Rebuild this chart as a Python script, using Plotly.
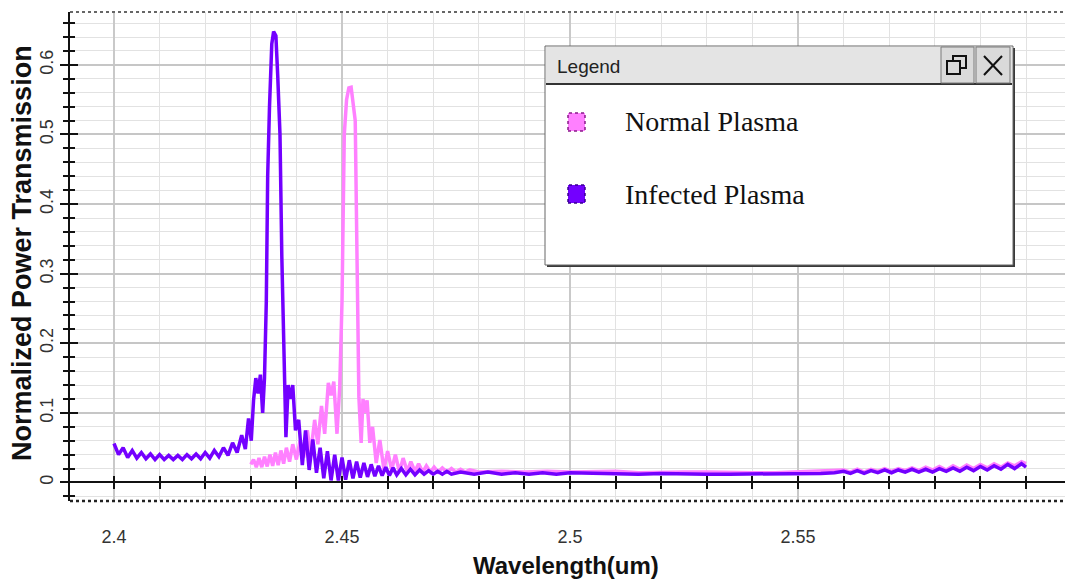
import plotly.graph_objects as go

# ---------------- data ----------------
infected_wl = [
    2.4000, 2.4010, 2.4020, 2.4030, 2.4040, 2.4050, 2.4060, 2.4070, 2.4080, 2.4090,
    2.4100, 2.4110, 2.4120, 2.4130, 2.4140, 2.4150, 2.4160, 2.4170, 2.4180, 2.4190,
    2.4200, 2.4210, 2.4220, 2.4230, 2.4240, 2.4250, 2.4260, 2.4270, 2.4280, 2.4288,
    2.4295, 2.4301, 2.4306, 2.4311, 2.4316, 2.4321, 2.4326, 2.4330, 2.4334, 2.4337,
    2.4341, 2.4346, 2.4350, 2.4355, 2.4359, 2.4364, 2.4368, 2.4372, 2.4377, 2.4382,
    2.4387, 2.4392, 2.4398, 2.4405, 2.4413, 2.4420, 2.4428, 2.4436, 2.4444, 2.4452,
    2.4460, 2.4468, 2.4476, 2.4484, 2.4492, 2.4500, 2.4508, 2.4516, 2.4524, 2.4532,
    2.4540, 2.4548, 2.4556, 2.4564, 2.4572, 2.4580, 2.4588, 2.4596, 2.4604, 2.4612,
    2.4620, 2.4630, 2.4640, 2.4650, 2.4660, 2.4670, 2.4680, 2.4690, 2.4700, 2.4710,
    2.4720, 2.4730, 2.4740, 2.4760, 2.4790, 2.4820, 2.4850, 2.4880, 2.4910, 2.4940,
    2.4970, 2.5000, 2.5050, 2.5100, 2.5150, 2.5200, 2.5250, 2.5300, 2.5350, 2.5400,
    2.5450, 2.5500, 2.5550, 2.5580, 2.5600, 2.5615, 2.5630, 2.5645, 2.5660, 2.5675,
    2.5690, 2.5705, 2.5720, 2.5735, 2.5750, 2.5765, 2.5780, 2.5795, 2.5810, 2.5825,
    2.5840, 2.5855, 2.5870, 2.5885, 2.5900, 2.5915, 2.5930, 2.5945, 2.5960, 2.5975,
    2.5990, 2.6000,
]
infected_t = [
    0.056, 0.040, 0.050, 0.036, 0.046, 0.035, 0.043, 0.034, 0.041, 0.033,
    0.040, 0.033, 0.039, 0.033, 0.039, 0.033, 0.040, 0.034, 0.041, 0.034,
    0.043, 0.035, 0.046, 0.037, 0.050, 0.039, 0.057, 0.043, 0.068, 0.048,
    0.092, 0.060, 0.118, 0.150, 0.128, 0.155, 0.100, 0.150, 0.260, 0.440,
    0.540, 0.630, 0.648, 0.642, 0.585, 0.500, 0.325, 0.190, 0.065, 0.140,
    0.120, 0.140, 0.075, 0.090, 0.025, 0.075, 0.018, 0.062, 0.014, 0.050,
    0.006, 0.045, 0.003, 0.040, 0.003, 0.036, 0.004, 0.032, 0.006, 0.030,
    0.007, 0.028, 0.008, 0.026, 0.009, 0.024, 0.010, 0.022, 0.010, 0.021,
    0.011, 0.020, 0.011, 0.019, 0.011, 0.018, 0.012, 0.017, 0.012, 0.016,
    0.012, 0.016, 0.012, 0.015, 0.012, 0.015, 0.012, 0.014, 0.012, 0.014,
    0.012, 0.014, 0.013, 0.013, 0.012, 0.013, 0.012, 0.012, 0.012, 0.012,
    0.013, 0.013, 0.013, 0.014, 0.016, 0.013, 0.017, 0.013, 0.017, 0.014,
    0.018, 0.014, 0.018, 0.015, 0.019, 0.015, 0.019, 0.015, 0.020, 0.016,
    0.021, 0.016, 0.022, 0.017, 0.023, 0.018, 0.024, 0.019, 0.026, 0.020,
    0.027, 0.022,
]

normal_wl = [
    2.4300, 2.4306, 2.4312, 2.4318, 2.4324, 2.4330, 2.4336, 2.4342, 2.4348, 2.4354,
    2.4360, 2.4366, 2.4372, 2.4378, 2.4385, 2.4392, 2.4400, 2.4408, 2.4416, 2.4424,
    2.4431, 2.4440, 2.4447, 2.4455, 2.4462, 2.4470, 2.4476, 2.4482, 2.4489, 2.4495,
    2.4500, 2.4505, 2.4510, 2.4515, 2.4520, 2.4524, 2.4529, 2.4533, 2.4537, 2.4542,
    2.4546, 2.4551, 2.4555, 2.4561, 2.4567, 2.4575, 2.4583, 2.4592, 2.4600, 2.4609,
    2.4617, 2.4626, 2.4634, 2.4643, 2.4651, 2.4660, 2.4668, 2.4677, 2.4685, 2.4694,
    2.4702, 2.4711, 2.4720, 2.4730, 2.4740, 2.4750, 2.4760, 2.4770, 2.4780, 2.4800,
    2.4850, 2.4900, 2.4950, 2.5000, 2.5050, 2.5100, 2.5150, 2.5200, 2.5250, 2.5300,
    2.5350, 2.5400, 2.5450, 2.5500, 2.5550, 2.5580, 2.5600, 2.5615, 2.5630, 2.5645,
    2.5660, 2.5675, 2.5690, 2.5705, 2.5720, 2.5735, 2.5750, 2.5765, 2.5780, 2.5795,
    2.5810, 2.5825, 2.5840, 2.5855, 2.5870, 2.5885, 2.5900, 2.5915, 2.5930, 2.5945,
    2.5960, 2.5975, 2.5990, 2.6000,
]
normal_t = [
    0.026, 0.033, 0.022, 0.035, 0.022, 0.037, 0.023, 0.040, 0.024, 0.043,
    0.025, 0.046, 0.027, 0.050, 0.030, 0.055, 0.033, 0.060, 0.036, 0.075,
    0.040, 0.090, 0.055, 0.110, 0.070, 0.143, 0.125, 0.145, 0.070, 0.137,
    0.260, 0.500, 0.550, 0.567, 0.568, 0.550, 0.520, 0.320, 0.123, 0.057,
    0.120, 0.100, 0.118, 0.057, 0.080, 0.028, 0.061, 0.018, 0.045, 0.018,
    0.040, 0.015, 0.035, 0.016, 0.030, 0.016, 0.027, 0.015, 0.024, 0.015,
    0.022, 0.015, 0.021, 0.015, 0.020, 0.015, 0.019, 0.015, 0.018, 0.015,
    0.016, 0.015, 0.016, 0.015, 0.015, 0.016, 0.014, 0.015, 0.015, 0.015,
    0.014, 0.014, 0.014, 0.015, 0.016, 0.017, 0.018, 0.015, 0.019, 0.015,
    0.019, 0.016, 0.020, 0.016, 0.020, 0.017, 0.021, 0.017, 0.022, 0.018,
    0.023, 0.018, 0.024, 0.019, 0.025, 0.020, 0.026, 0.021, 0.027, 0.022,
    0.028, 0.024, 0.030, 0.027,
]

series_names = ["Normal Plasma", "Infected Plasma"]
series_colors = ["#FF80FF", "#7300FF"]
x_tick_vals = [2.4, 2.45, 2.5, 2.55]
x_tick_text = ["2.4", "2.45", "2.5", "2.55"]
y_tick_vals = [0, 0.1, 0.2, 0.3, 0.4, 0.5, 0.6]
y_tick_text = ["0", "0.1", "0.2", "0.3", "0.4", "0.5", "0.6"]

X_RANGE = [2.39035, 2.60855]
Y_RANGE = [-0.0266, 0.676]

# ---------------- layout helpers (pixel -> paper) ----------------
W, H = 1065, 583
ML, MR, MT, MB = 70, 0, 12, 82
PW, PH = W - ML - MR, H - MT - MB


def px(X):
    return (X - ML) / PW


def py(Y):
    return (H - MB - Y) / PH


fig = go.Figure()

fig.add_trace(go.Scatter(
    x=normal_wl, y=normal_t, mode="lines", name=series_names[0],
    line=dict(color=series_colors[0], width=3.5), showlegend=False))
fig.add_trace(go.Scatter(
    x=infected_wl, y=infected_t, mode="lines", name=series_names[1],
    line=dict(color=series_colors[1], width=3.5), showlegend=False))

# dummy traces so that the overlay axes (crossing ticks) are drawn
fig.add_trace(go.Scatter(x=[None], y=[None], xaxis="x2", yaxis="y", showlegend=False, hoverinfo="skip"))
fig.add_trace(go.Scatter(x=[None], y=[None], xaxis="x3", yaxis="y", showlegend=False, hoverinfo="skip"))
fig.add_trace(go.Scatter(x=[None], y=[None], xaxis="x", yaxis="y2", showlegend=False, hoverinfo="skip"))

zero_pos = (0 - Y_RANGE[0]) / (Y_RANGE[1] - Y_RANGE[0])
tickfont = dict(family="Liberation Sans, Arial, sans-serif", size=18, color="#333333")

fig.update_layout(
    width=W, height=H,
    margin=dict(l=ML, r=MR, t=MT, b=MB, pad=0),
    paper_bgcolor="white", plot_bgcolor="white",
    showlegend=False,
    xaxis=dict(
        range=X_RANGE, tickmode="array", tickvals=x_tick_vals, ticktext=x_tick_text,
        ticks="", showline=False, zeroline=False,
        showgrid=True, gridcolor="#c9c9c9", gridwidth=1.5,
        minor=dict(tickmode="linear", tick0=2.4, dtick=0.01, showgrid=True,
                   gridcolor="#e2e2e2", gridwidth=1, ticks=""),
        tickfont=tickfont, ticklabelstandoff=23,
    ),
    xaxis2=dict(
        range=X_RANGE, overlaying="x", anchor="free", position=zero_pos,
        showline=True, linecolor="#111111", linewidth=2,
        ticks="outside", ticklen=6, tickwidth=2, tickcolor="#111111",
        tickmode="linear", tick0=2.4, dtick=0.01,
        showticklabels=False, showgrid=False, zeroline=False,
    ),
    xaxis3=dict(
        range=X_RANGE, overlaying="x", anchor="free", position=zero_pos,
        showline=False,
        ticks="inside", ticklen=6, tickwidth=2, tickcolor="#111111",
        tickmode="linear", tick0=2.4, dtick=0.01,
        showticklabels=False, showgrid=False, zeroline=False,
    ),
    yaxis=dict(
        range=Y_RANGE, tickmode="array", tickvals=y_tick_vals, ticktext=y_tick_text,
        showline=True, linecolor="#111111", linewidth=2,
        ticks="outside", ticklen=8, tickwidth=2, tickcolor="#111111",
        showgrid=True, gridcolor="#c6c6c6", gridwidth=1.5, zeroline=False,
        minor=dict(tickmode="linear", tick0=0, dtick=0.02, showgrid=True,
                   gridcolor="#e2e2e2", gridwidth=1, ticks="outside", ticklen=5,
                   tickwidth=2, tickcolor="#111111"),
        tickangle=-90, tickfont=dict(family="Liberation Sans, Arial, sans-serif", size=18, color="#333333"),
        ticklabelstandoff=0,
    ),
    yaxis2=dict(
        range=Y_RANGE, overlaying="y", anchor="x", side="left",
        showline=False, ticks="inside", ticklen=8, tickwidth=2, tickcolor="#111111",
        tickmode="array", tickvals=y_tick_vals, showticklabels=False,
        showgrid=False, zeroline=False,
        minor=dict(tickmode="linear", tick0=0, dtick=0.02, ticks="inside", ticklen=5,
                   tickwidth=2, tickcolor="#111111", showgrid=False),
    ),
)

shapes = []
# dotted frame lines (top and bottom)
shapes.append(dict(type="line", xref="paper", yref="paper", x0=0, x1=1, y0=1, y1=1,
                   line=dict(color="#666666", width=2, dash="dot"), layer="above"))
shapes.append(dict(type="line", xref="paper", yref="paper", x0=0, x1=1, y0=0, y1=0,
                   line=dict(color="#222222", width=2.5, dash="dot"), layer="above"))


def rect(X0, Y0, X1, Y1, **kw):
    d = dict(type="rect", xref="paper", yref="paper",
             x0=px(X0), x1=px(X1), y0=py(Y1), y1=py(Y0), layer="above")
    d.update(kw)
    return d


def seg(X0, Y0, X1, Y1, **kw):
    d = dict(type="line", xref="paper", yref="paper",
             x0=px(X0), x1=px(X1), y0=py(Y0), y1=py(Y1), layer="above")
    d.update(kw)
    return d


# legend window
shapes.append(rect(547, 48, 1015, 267, fillcolor="#3a3a3a", line=dict(width=0)))
shapes.append(rect(545, 46, 1013, 265, fillcolor="white", line=dict(color="#666666", width=1)))
shapes.append(rect(546, 47, 1012, 84, fillcolor="#e4e4e4", line=dict(width=0)))
shapes.append(seg(546, 84, 1012, 84, line=dict(color="#333333", width=2)))
# title-bar buttons
shapes.append(rect(941, 47, 974, 83, fillcolor="#dadada", line=dict(color="#7a7a7a", width=1)))
shapes.append(rect(976, 47, 1010, 83, fillcolor="#dadada", line=dict(color="#7a7a7a", width=1)))
shapes.append(rect(953, 56, 966, 68, fillcolor="#dadada", line=dict(color="#111111", width=2)))
shapes.append(rect(947, 61, 960, 74, fillcolor="#dadada", line=dict(color="#111111", width=2)))
shapes.append(seg(984, 56, 1002, 75, line=dict(color="#111111", width=2)))
shapes.append(seg(1002, 56, 984, 75, line=dict(color="#111111", width=2)))
# legend swatches
shapes.append(rect(568, 113, 585, 131, fillcolor=series_colors[0],
                   line=dict(color="#8a1a8a", width=1.5, dash="dot")))
shapes.append(rect(568, 185, 585, 203, fillcolor=series_colors[1],
                   line=dict(color="#3a0090", width=1.5, dash="dot")))

annotations = [
    dict(text="Legend", x=px(555), y=py(66), xref="paper", yref="paper",
         xanchor="left", yanchor="middle", showarrow=False,
         font=dict(family="Liberation Sans, Arial, sans-serif", size=19, color="#222222")),
    dict(text=series_names[0], x=px(623), y=py(122), xref="paper", yref="paper",
         xanchor="left", yanchor="middle", showarrow=False,
         font=dict(family="Liberation Serif, Times New Roman, serif", size=28, color="#111111")),
    dict(text=series_names[1], x=px(623), y=py(194), xref="paper", yref="paper",
         xanchor="left", yanchor="middle", showarrow=False,
         font=dict(family="Liberation Serif, Times New Roman, serif", size=28, color="#111111")),
    dict(text="<b>Normalized Power Transmission</b>", x=px(22), y=py(253),
         xref="paper", yref="paper", xanchor="center", yanchor="middle",
         textangle=-90, showarrow=False,
         font=dict(family="Liberation Sans, Arial, sans-serif", size=27, color="#111111")),
    dict(text="<b>Wavelength(um)</b>", x=px(566), y=py(565),
         xref="paper", yref="paper", xanchor="center", yanchor="middle",
         showarrow=False,
         font=dict(family="Liberation Sans, Arial, sans-serif", size=24, color="#111111")),
]

fig.update_layout(shapes=shapes, annotations=annotations)

fig.write_html(
    "out.html",
    config={"displayModeBar": False},
    post_script="document.body.style.margin='0';document.body.style.overflow='hidden';",
)
